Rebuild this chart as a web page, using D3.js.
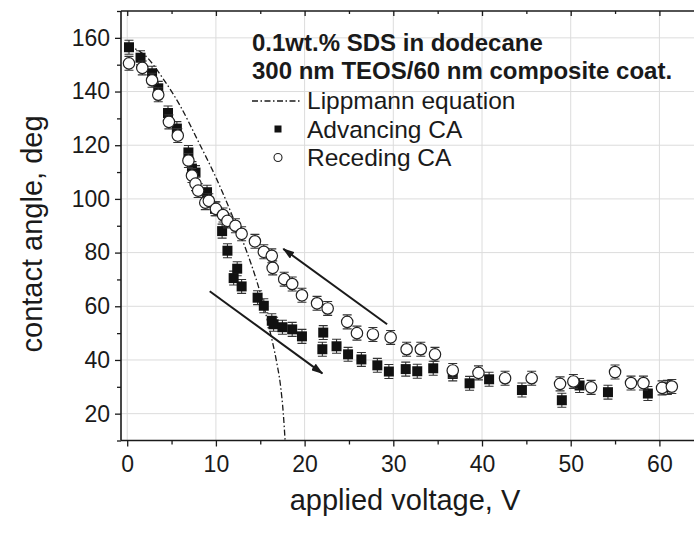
<!DOCTYPE html>
<html><head><meta charset="utf-8">
<script src="https://cdn.jsdelivr.net/npm/d3@7"></script>
<style>body{margin:0;background:#fff}svg{display:block;font-family:Arial,"Liberation Sans",sans-serif}</style>
</head><body><svg id="c" width="694" height="533"></svg>
<script>
// Advancing contact angle (V, deg)
const advV = [0.2,1.5,2.8,3.5,4.6,5.6,6.9,7.3,7.7,9.0,9.9,10.7,11.3,12.0,12.4,12.9,14.7,15.4,16.3,16.5,17.5,18.6,19.7,22.1,22.0,23.6,24.9,26.4,28.2,29.5,31.4,32.7,34.5,36.7,38.6,40.8,44.5,49.0,51.0,54.2,58.7,60.9];
const advA = [156.5,152.6,146.8,141.2,132.0,126.2,117.3,111.3,109.8,102.5,96.3,88.0,80.7,70.5,74.0,67.4,63.2,60.2,54.6,53.3,52.2,51.4,48.8,50.2,44.0,45.1,42.1,40.2,38.0,35.7,36.6,35.8,36.9,34.8,31.3,32.8,28.8,25.0,30.5,28.0,27.5,29.8];
// Receding contact angle (V, deg)
const recV = [0.2,1.7,2.8,3.5,4.7,5.7,6.9,7.3,7.7,8.0,8.8,9.2,10.0,10.8,11.3,12.2,12.9,14.4,15.4,16.3,16.4,17.7,18.6,19.7,21.4,22.6,24.8,25.9,27.7,29.7,31.5,33.1,34.7,36.7,39.6,42.6,45.6,48.8,50.3,52.3,55.0,56.8,58.2,60.3,61.4];
const recA = [150.5,148.8,144.2,138.8,128.7,123.6,114.3,108.7,105.7,103.1,98.6,99.3,96.3,94.0,91.8,90.0,87.0,84.2,80.3,78.8,74.3,70.1,68.3,64.1,61.1,59.2,54.2,50.0,49.5,48.4,44.0,44.0,42.1,36.1,35.2,33.2,33.2,31.1,32.0,29.8,35.5,31.4,31.4,29.6,30.1];
const errBar = 2.6; // deg, error bar half-length
// Lippmann equation curve
const lipV = [0,2,4,6,8,10,11,12,13,14,15,16,16.8,17.3,17.6,17.8];
const lipA = [157,153.5,145,134.5,121.5,108,100.5,92.5,84.5,75.5,65,52,40,30,20,10];
// arrows [fromV, fromA, toV, toA]
const arrowUp = [29.3,53.3,17.6,81.4];
const arrowDown = [9.3,65.6,22.0,35.0];
// ticks
const xTicks = [0,10,20,30,40,50,60];
const xMinor = [5,15,25,35,45,55];
const yTicks = [20,40,60,80,100,120,140,160];
const yMinor = [10,30,50,70,90,110,130,150,170];
const legendTitle = ["0.1wt.% SDS in dodecane","300 nm TEOS/60 nm composite coat."];
const legendItems = ["Lippmann equation","Advancing CA","Receding CA"];

const svg = d3.select("#c");
const L=121, R=694, T=11, B=440.5;
const x = d3.scaleLinear().domain([-0.7,63.9]).range([L,R]);
const y = d3.scaleLinear().domain([10,170]).range([B,T]);
const ink = "#1a1a1a";

// grid
svg.append("g").selectAll("line").data(xTicks).join("line")
  .attr("x1",d=>x(d)).attr("x2",d=>x(d)).attr("y1",T).attr("y2",B)
  .attr("stroke","#dcdcdc").attr("stroke-width",1);
svg.append("g").selectAll("line").data(yTicks).join("line")
  .attr("x1",L).attr("x2",R).attr("y1",d=>y(d)).attr("y2",d=>y(d))
  .attr("stroke","#dcdcdc").attr("stroke-width",1);

// axes
const xAx = svg.append("g").attr("transform",`translate(0,${B})`)
  .call(d3.axisBottom(x).tickValues(xTicks).tickSize(6).tickPadding(9).tickFormat(d3.format("d")));
const xAxMin = svg.append("g").attr("transform",`translate(0,${B})`)
  .call(d3.axisBottom(x).tickValues(xMinor).tickSize(4).tickFormat(""));
const yAx = svg.append("g").attr("transform",`translate(${L},0)`)
  .call(d3.axisLeft(y).tickValues(yTicks).tickSize(6).tickPadding(5).tickFormat(d3.format("d")));
const yAxMin = svg.append("g").attr("transform",`translate(${L},0)`)
  .call(d3.axisLeft(y).tickValues(yMinor).tickSize(4).tickFormat(""));
const top1 = svg.append("g").attr("transform",`translate(0,${T})`)
  .call(d3.axisBottom(x).tickValues(xTicks).tickSize(5).tickFormat(""));
const top2 = svg.append("g").attr("transform",`translate(0,${T})`)
  .call(d3.axisBottom(x).tickValues(xMinor).tickSize(3).tickFormat(""));
[xAx,xAxMin,yAx,yAxMin,top1,top2].forEach(g=>{
  g.select(".domain").attr("stroke",ink).attr("stroke-width",1.6);
  g.selectAll(".tick line").attr("stroke",ink).attr("stroke-width",1.3);
  g.selectAll("text").attr("fill",ink).style("font-size","23px").style("font-family","Arial, 'Liberation Sans', sans-serif");
});
top1.select(".domain").attr("d",`M${L},0H${R}`);
top2.select(".domain").remove();
xAxMin.select(".domain").remove(); yAxMin.select(".domain").remove();
yAx.select(".domain").attr("d",`M0,${T}V${B}`);
xAx.select(".domain").attr("d",`M${L},0H${R}`);

// axis titles
svg.append("text").attr("x",405).attr("y",510).attr("text-anchor","middle")
  .attr("fill",ink).style("font-size","29px").text("applied voltage, V");
svg.append("text").attr("transform","translate(42,234) rotate(-90)").attr("text-anchor","middle")
  .attr("fill",ink).style("font-size","29px").text("contact angle, deg");

// Lippmann curve
const lip = lipV.map((v,i)=>[v,lipA[i]]);
svg.append("path").datum(lip)
  .attr("d",d3.line().x(d=>x(d[0])).y(d=>y(d[1])).curve(d3.curveMonotoneX))
  .attr("fill","none").attr("stroke",ink).attr("stroke-width",1.3).attr("stroke-dasharray","6,2.5,1.5,2.5");

// arrows
const defs = svg.append("defs");
defs.append("marker").attr("id","ah").attr("viewBox","0 0 12 8").attr("refX",11).attr("refY",4)
  .attr("markerWidth",12).attr("markerHeight",8).attr("markerUnits","userSpaceOnUse").attr("orient","auto")
  .append("path").attr("d","M0,0L12,4L0,8Z").attr("fill",ink);
[arrowUp,arrowDown].forEach(a=>{
  svg.append("line").attr("x1",x(a[0])).attr("y1",y(a[1])).attr("x2",x(a[2])).attr("y2",y(a[3]))
    .attr("stroke",ink).attr("stroke-width",2).attr("marker-end","url(#ah)");
});

// error bars + markers
function errs(V,A){
  const g = svg.append("g").attr("stroke","#333").attr("stroke-width",1.1);
  const d = V.map((v,i)=>[v,A[i]]);
  g.selectAll("path").data(d).join("path").attr("fill","none")
    .attr("d",p=>{const cx=x(p[0]),y1=y(p[1]+errBar),y2=y(p[1]-errBar);
      return `M${cx},${y1}V${y2}M${cx-4.5},${y1}H${cx+4.5}M${cx-4.5},${y2}H${cx+4.5}`;});
  return d;
}
const adv = errs(advV,advA);
svg.append("g").selectAll("rect").data(adv).join("rect")
  .attr("x",d=>x(d[0])-5).attr("y",d=>y(d[1])-5).attr("width",10).attr("height",10).attr("fill","#111");
const rec = errs(recV,recA);
svg.append("g").selectAll("circle").data(rec).join("circle")
  .attr("cx",d=>x(d[0])).attr("cy",d=>y(d[1])).attr("r",5.7)
  .attr("fill","#fff").attr("stroke","#222").attr("stroke-width",1.2);

// legend
const lg = svg.append("g");
legendTitle.forEach((t,i)=>{
  lg.append("text").attr("x",252).attr("y",51+i*28).attr("fill",ink)
    .style("font-size","24px").style("font-weight","bold").text(t);
});
legendItems.forEach((t,i)=>{
  lg.append("text").attr("x",307).attr("y",109+i*28.5).attr("fill",ink).style("font-size","24.5px").text(t);
});
lg.append("line").attr("x1",252).attr("x2",301).attr("y1",101).attr("y2",101)
  .attr("stroke",ink).attr("stroke-width",1.3).attr("stroke-dasharray","6,2.5,1.5,2.5");
lg.append("rect").attr("x",278-3.5).attr("y",129-3.5).attr("width",7).attr("height",7).attr("fill","#111");
lg.append("circle").attr("cx",278).attr("cy",157.5).attr("r",4).attr("fill","#fff").attr("stroke","#222").attr("stroke-width",1.1);
</script></body></html>
